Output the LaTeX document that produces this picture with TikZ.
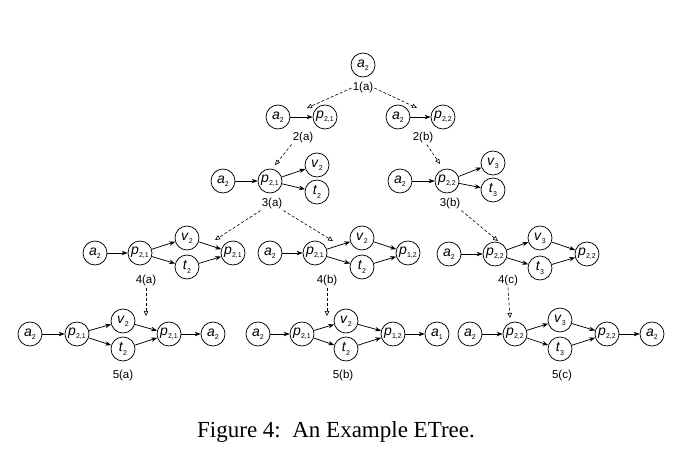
\documentclass[tikz,border=0pt]{standalone}
\usepackage{fontspec}
\setmainfont{Liberation Serif}
\setsansfont{Liberation Sans}
\usetikzlibrary{arrows.meta}
\newcommand{\elab}[2]{\textit{#1}\raisebox{-0.45ex}{\fontsize{7}{7}\selectfont #2}}

\begin{document}
\begin{tikzpicture}[x=1pt,y=-1pt,
		state/.style={circle, draw, line width=0.75pt, minimum size=24pt, inner sep=0pt, font=\sffamily\fontsize{14}{14}\selectfont},
		tag/.style={inner sep=1pt, font=\sffamily\fontsize{11.5}{12}\selectfont},
		flow/.style={-{Stealth[length=6pt,width=4.5pt]}, line width=0.75pt},
		refine/.style={-{Triangle[open,length=5pt,width=4.5pt]}, dash pattern=on 3pt off 2pt, line width=0.6pt}
		]
		\useasboundingbox (0,0) rectangle (699,448);
		
		% 1(a)
		\node[state] (r1) at (363,65) {\elab{a}{2}};
		\node[tag] (l1a) at (363,88) {1(a)};
		
		% 2(a), 2(b)
		\node[state] (a2A) at (278,117) {\elab{a}{2}};
		\node[state] (p2A) at (325,117) {\elab{p}{2,1}};
		\node[tag] (l2a) at (303,138) {2(a)};
		\node[state] (a2B) at (398,117) {\elab{a}{2}};
		\node[state] (p2B) at (443,117) {\elab{p}{2,2}};
		\node[tag] (l2b) at (423,138) {2(b)};
		
		% 3(a), 3(b)
		\node[state] (a3A) at (223,181) {\elab{a}{2}};
		\node[state] (p3A) at (270,181) {\elab{p}{2,1}};
		\node[state] (v3A) at (317,165) {\elab{v}{2}};
		\node[state] (t3A) at (317,192) {\elab{t}{2}};
		\node[tag] (l3a) at (272,204) {3(a)};
		\node[state] (a3B) at (400,181) {\elab{a}{2}};
		\node[state] (p3B) at (447,181) {\elab{p}{2,2}};
		\node[state] (v3B) at (493,163) {\elab{v}{3}};
		\node[state] (t3B) at (493,190) {\elab{t}{3}};
		\node[tag] (l3b) at (450,204) {3(b)};
		
		% 4(a), 4(b), 4(c)
		\node[state] (a4A) at (95,253) {\elab{a}{2}};
		\node[state] (p4A) at (140,253) {\elab{p}{2,1}};
		\node[state] (v4A) at (187,238) {\elab{v}{2}};
		\node[state] (t4A) at (187,267) {\elab{t}{2}};
		\node[state] (q4A) at (233,253) {\elab{p}{2,1}};
		\node[tag] (l4a) at (146,281) {4(a)};
		\node[state] (a4B) at (270,253) {\elab{a}{2}};
		\node[state] (p4B) at (315,253) {\elab{p}{2,1}};
		\node[state] (v4B) at (362,238) {\elab{v}{2}};
		\node[state] (t4B) at (362,267) {\elab{t}{2}};
		\node[state] (q4B) at (408,253) {\elab{p}{1,2}};
		\node[tag] (l4b) at (327,281) {4(b)};
		\node[state] (a4C) at (449,254) {\elab{a}{2}};
		\node[state] (p4C) at (495,254) {\elab{p}{2,2}};
		\node[state] (v4C) at (540,238) {\elab{v}{3}};
		\node[state] (t4C) at (540,268) {\elab{t}{3}};
		\node[state] (q4C) at (587,254) {\elab{p}{2,2}};
		\node[tag] (l4c) at (508,281) {4(c)};
		
		% 5(a), 5(b), 5(c)
		\node[state] (a5A) at (30,334) {\elab{a}{2}};
		\node[state] (p5A) at (77,334) {\elab{p}{2,1}};
		\node[state] (v5A) at (123,321) {\elab{v}{2}};
		\node[state] (t5A) at (123,349) {\elab{t}{2}};
		\node[state] (q5A) at (169,334) {\elab{p}{2,1}};
		\node[state] (b5A) at (213,334) {\elab{a}{2}};
		\node[tag] (l5a) at (123,376) {5(a)};
		\node[state] (a5B) at (258,334) {\elab{a}{2}};
		\node[state] (p5B) at (302,334) {\elab{p}{2,1}};
		\node[state] (v5B) at (346,321) {\elab{v}{2}};
		\node[state] (t5B) at (346,349) {\elab{t}{2}};
		\node[state] (q5B) at (393,334) {\elab{p}{1,2}};
		\node[state] (b5B) at (437,334) {\elab{a}{1}};
		\node[tag] (l5b) at (343,376) {5(b)};
		\node[state] (a5C) at (470,334) {\elab{a}{2}};
		\node[state] (p5C) at (515,334) {\elab{p}{2,2}};
		\node[state] (v5C) at (560,320) {\elab{v}{3}};
		\node[state] (t5C) at (560,349) {\elab{t}{3}};
		\node[state] (q5C) at (607,334) {\elab{p}{2,2}};
		\node[state] (b5C) at (652,334) {\elab{a}{2}};
		\node[tag] (l5c) at (562,376) {5(c)};
		
		\node (cap) at (336,432) {\fontsize{23}{26}\selectfont Figure 4:\ \ An Example ETree.};
		
		% solid edges
		\foreach \s in {A,B} {
			\draw[flow] (a2\s) -- (p2\s);
			\draw[flow] (a3\s) -- (p3\s);
			\draw[flow] (p3\s) -- (v3\s);
			\draw[flow] (p3\s) -- (t3\s);
		}
		\foreach \r in {4,5} {
			\foreach \s in {A,B,C} {
				\draw[flow] (a\r\s) -- (p\r\s);
				\draw[flow] (p\r\s) -- (v\r\s);
				\draw[flow] (p\r\s) -- (t\r\s);
				\draw[flow] (v\r\s) -- (q\r\s);
				\draw[flow] (t\r\s) -- (q\r\s);
			}
		}
		\foreach \s in {A,B,C}
			\draw[flow] (q5\s) -- (b5\s);
		
		% refinement steps
		\coordinate (c1L) at (307,108);
		\coordinate (c1R) at (417,108);
		\coordinate (c2L) at (275,165);
		\coordinate (c2R) at (440,164);
		\coordinate (c3L) at (215,240);
		\coordinate (c3M) at (333,241);
		\coordinate (c3R) at (498,241);
		\coordinate (c4L) at (146,316);
		\coordinate (c4M) at (327,316);
		\coordinate (c4R) at (510,318);
		
		\draw[refine] (l1a.west) -- (c1L);
		\draw[refine] (l1a.east) -- (c1R);
		\draw[refine] (l2a.south west) -- (c2L);
		\draw[refine] (l2b.-60) -- (c2R);
		\draw[refine] (l3a.south west) -- (c3L);
		\draw[refine] (l3a.south east) -- (c3M);
		\draw[refine] (l3b.south east) -- (c3R);
		\draw[refine] (l4a.south) -- (c4L);
		\draw[refine] (l4b.south) -- (c4M);
		\draw[refine] (l4c.south) -- (c4R);
		
	\end{tikzpicture}
\end{document}
